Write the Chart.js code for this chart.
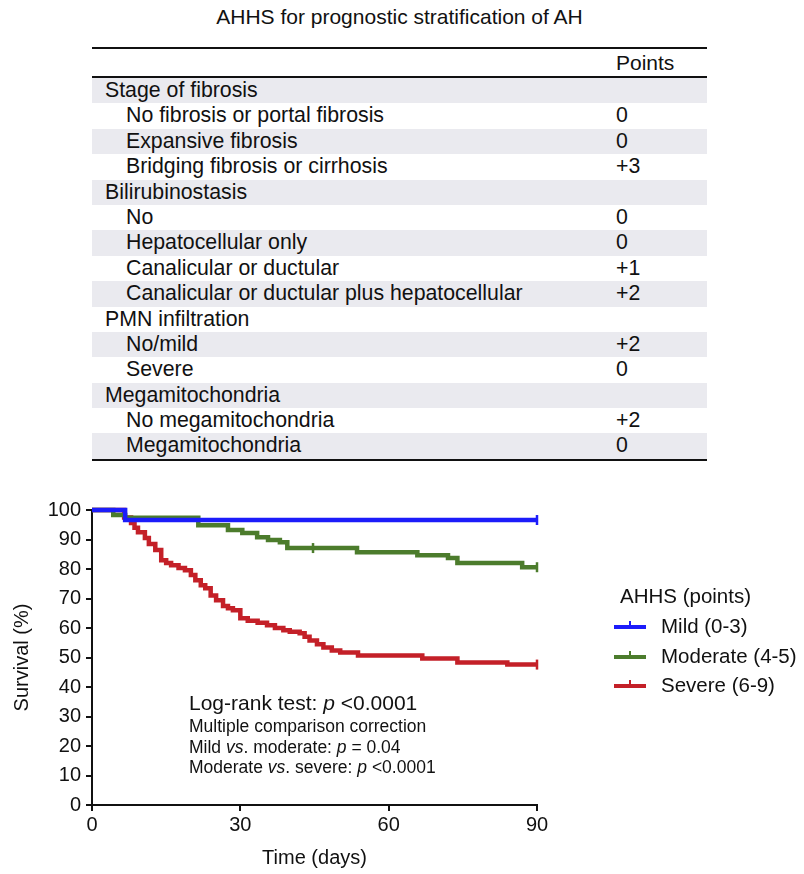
<!DOCTYPE html>
<html>
<head>
<meta charset="utf-8">
<script src="https://cdn.jsdelivr.net/npm/chart.js@4.4.1/dist/chart.umd.min.js"></script>
<style>
  body { margin: 0; background: #fff; font-family: "Liberation Sans", Arial, sans-serif; color: #111; }
  #page { position: relative; width: 804px; height: 874px; overflow: hidden; }
  #title { position: absolute; left: 92px; width: 615px; text-align: center; top: 5px; font-size: 21px; white-space: nowrap; }
  #scoreTable { position: absolute; left: 92px; top: 47px; width: 615px; border-top: 2px solid #111; border-bottom: 2px solid #111; }
  .hdr { position: relative; height: 27px; border-bottom: 2px solid #111; }
  .row { position: relative; height: 25.4px; font-size: 21.3px; line-height: 25.4px; white-space: nowrap; }
  .row.grey { background: #eaeaef; }
  .row .lbl { position: absolute; left: 13px; }
  .row.sub .lbl { left: 34px; }
  .row .pts, .hdr .pts { position: absolute; left: 524px; }
  .hdr .pts { font-size: 21px; line-height: 28px; }
  #chartWrap { position: absolute; left: 0; top: 470px; width: 804px; height: 404px; }
  .note { position: absolute; left: 189px; white-space: nowrap; font-size: 17.5px; line-height: 20px; }
  .note.big { font-size: 21px; line-height: 24px; }
  #legend { position: absolute; left: 614px; top: 584px; font-size: 20.5px; white-space: nowrap; }
  #legend .ttl { position: absolute; left: 6px; top: 0; }
  #legend .item { position: absolute; left: 0; height: 26px; }
  #legend .swatch { position: absolute; left: 0; top: 11px; width: 32px; height: 4px; }
  #legend .swatch::after { content: ""; position: absolute; left: 15px; top: -4px; width: 2px; height: 5px; background: inherit; }
  #legend .txt { position: absolute; left: 47px; top: 0; }
</style>
</head>
<body>
<div id="page">
  <div id="title">AHHS for prognostic stratification of AH</div>
  <div id="scoreTable"></div>
  <div id="chartWrap"><canvas id="kmChart" width="804" height="404"></canvas></div>
  <div class="note big" style="top:691px">Log-rank test: <i>p</i> &lt;0.0001</div>
  <div class="note" style="top:716px">Multiple comparison correction</div>
  <div class="note" style="top:737px">Mild <i>vs</i>. moderate: <i>p</i> = 0.04</div>
  <div class="note" style="top:757px">Moderate <i>vs</i>. severe: <i>p</i> &lt;0.0001</div>
  <div id="legend"></div>
</div>
<script>
// table contents
const rowLabels = [
  'Stage of fibrosis', 'No fibrosis or portal fibrosis', 'Expansive fibrosis', 'Bridging fibrosis or cirrhosis',
  'Bilirubinostasis', 'No', 'Hepatocellular only', 'Canalicular or ductular', 'Canalicular or ductular plus hepatocellular',
  'PMN infiltration', 'No/mild', 'Severe',
  'Megamitochondria', 'No megamitochondria', 'Megamitochondria'
];
const rowPoints = ['', '0', '0', '+3', '', '0', '0', '+1', '+2', '', '+2', '0', '', '+2', '0'];
const rowIsGroup = [true, false, false, false, true, false, false, false, false, true, false, false, true, false, false];

// Kaplan-Meier steps: [day, survival %]
const mildSteps = [[0, 100], [6.7, 96.6], [90, 96.6]];
const moderateSteps = [
  [0, 100], [4.3, 98.3], [6.7, 97.4], [21.5, 94.8], [27.5, 93.2], [30.4, 92.2], [33.4, 90.8],
  [35.6, 89.8], [38, 89.1], [39.5, 87.1], [53.6, 85.7], [65.8, 84.7], [72, 83.7], [73.9, 82],
  [87, 80.6], [90, 80.6]
];
const severeSteps = [
  [0, 100], [6.5, 97.5], [7.9, 95.6], [8.6, 94], [9.3, 92.5], [10.7, 90.5], [11.5, 88.5], [12.8, 86.4],
  [14, 83], [15, 82], [16, 81.3], [17.5, 80.3], [18.8, 79.6], [20, 78], [20.9, 76.2], [22, 74.5],
  [22.9, 73.5], [24, 71], [25.1, 69.4], [26.5, 67.5], [27.5, 66.7], [28.5, 66], [30, 63.3],
  [31.5, 62.5], [33.5, 61.8], [35.4, 60.9], [37, 60], [38.7, 59.2], [40, 58.7], [42, 58.2],
  [43, 57], [44, 55.8], [45.5, 54.5], [46.8, 53.4], [48.5, 52.4], [50.2, 51.7], [53.8, 50.7],
  [66.8, 49.7], [73.9, 48.3], [84, 47.6], [90, 47.6]
];
// censored observations
const mildCensored = [[90, 96.6]];
const moderateCensored = [[44.7, 87.1], [90, 80.6]];
const severeCensored = [[90, 47.6]];

const groupNames = ['Mild (0-3)', 'Moderate (4-5)', 'Severe (6-9)'];
const groupColors = ['rgb(28, 28, 250)', 'rgb(76, 124, 44)', 'rgb(196, 32, 40)'];
const xTicks = [0, 30, 60, 90];

// build the table
const tableEl = document.getElementById('scoreTable');
tableEl.innerHTML = '<div class="hdr"><span class="pts">Points</span></div>';
rowLabels.forEach((label, i) => {
  const row = document.createElement('div');
  row.className = 'row' + (i % 2 === 0 ? ' grey' : '') + (rowIsGroup[i] ? '' : ' sub');
  row.innerHTML = '<span class="lbl">' + label + '</span><span class="pts">' + rowPoints[i] + '</span>';
  tableEl.appendChild(row);
});

// legend
const legendEl = document.getElementById('legend');
legendEl.innerHTML = '<div class="ttl">AHHS (points)</div>';
groupNames.forEach((name, i) => {
  const item = document.createElement('div');
  item.className = 'item';
  item.style.top = (30 + i * 29.5) + 'px';
  item.innerHTML = '<div class="swatch" style="background:' + groupColors[i] + '"></div><div class="txt">' + name + '</div>';
  legendEl.appendChild(item);
});

const toXY = arr => arr.map(p => ({ x: p[0], y: p[1] }));

function curve(steps, color) {
  return {
    data: toXY(steps), borderColor: color, borderWidth: 4.5, stepped: 'before',
    pointRadius: 0, fill: false, clip: false
  };
}
function censor(points, color) {
  return {
    data: toXY(points), showLine: false, pointStyle: 'line', rotation: 90,
    pointRadius: 5, pointBorderWidth: 2.5, borderColor: color, backgroundColor: color, clip: false
  };
}

const ctx = document.getElementById('kmChart').getContext('2d');
const tickFont = { family: '"Liberation Sans", Arial, sans-serif', size: 20 };

new Chart(ctx, {
  type: 'line',
  data: {
    datasets: [
      censor(mildCensored, groupColors[0]),
      curve(mildSteps, groupColors[0]),
      censor(moderateCensored, groupColors[1]),
      curve(moderateSteps, groupColors[1]),
      censor(severeCensored, groupColors[2]),
      curve(severeSteps, groupColors[2])
    ]
  },
  options: {
    responsive: false,
    animation: false,
    layout: { padding: { top: 40, right: 267, left: 0, bottom: 0 } },
    scales: {
      x: {
        type: 'linear', min: 0, max: 90,
        afterBuildTicks: s => { s.ticks = xTicks.map(v => ({ value: v })); },
        afterFit: s => { s.height = 69; },
        border: { color: '#111', width: 2 },
        grid: { drawOnChartArea: false, color: '#111', lineWidth: 2, tickLength: 6 },
        ticks: { color: '#111', font: tickFont, padding: 2, maxRotation: 0 },
        title: { display: true, text: 'Time (days)', color: '#111', font: tickFont, padding: { top: 0, bottom: 4 } }
      },
      y: {
        min: 0, max: 100,
        afterFit: s => { s.width = 92; },
        border: { color: '#111', width: 2 },
        grid: { drawOnChartArea: false, color: '#111', lineWidth: 2, tickLength: 6 },
        ticks: { stepSize: 10, color: '#111', font: tickFont, padding: 5 },
        title: { display: true, text: 'Survival (%)', color: '#111', font: tickFont, padding: { top: 10, bottom: 0 } }
      }
    },
    plugins: { legend: { display: false }, tooltip: { enabled: false } }
  }
});
</script>
</body>
</html>
